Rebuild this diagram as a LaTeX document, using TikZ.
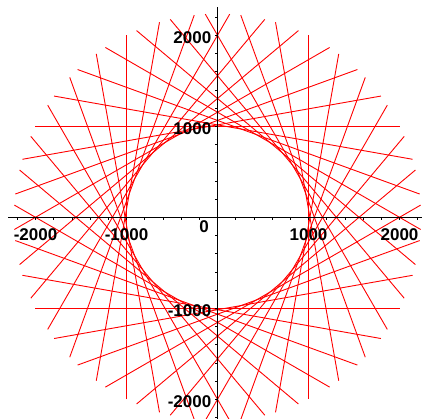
\documentclass[tikz,border=0pt]{standalone}
\usepackage{fontspec}
\setmainfont{Liberation Sans}
\begin{document}
\begin{tikzpicture}[x=1pt,y=1pt,
  tangent/.style={red, line width=0.9pt},
  axisline/.style={black, line width=0.9pt},
  ticklbl/.style={font=\bfseries\fontsize{17}{17}\selectfont, inner sep=0pt, text=black}]
\useasboundingbox (0,0) rectangle (422,419);
\begin{scope}[shift={(217.5,201.7)}, x=0.091pt, y=0.091pt]
  % tangent lines to the circle of radius 1000
  \foreach \k in {0,...,35}{
    \pgfmathsetmacro{\t}{10*\k}
    \coordinate (p\k) at ({1000*cos(\t)-2000*sin(\t)},{1000*sin(\t)+2000*cos(\t)});
    \coordinate (q\k) at ({1000*cos(\t)+2000*sin(\t)},{1000*sin(\t)-2000*cos(\t)});
    \draw[tangent] (p\k) -- (q\k);
  }
  % axes
  \coordinate (xl) at (-2300,0);
  \coordinate (xr) at (2260,0);
  \coordinate (yb) at (0,-2225);
  \coordinate (yt) at (0,2310);
  \draw[axisline] (xl) -- (xr);
  \draw[axisline] (yb) -- (yt);
  \foreach \v in {-2200,-2000,...,2200}{
    \draw[axisline, line width=0.7pt] (\v,0) -- ++(0,-2.5pt);
    \draw[axisline, line width=0.7pt] (0,\v) -- ++(-2.5pt,0);
  }
  % labels
  \foreach \v/\s in {-2000/-2000,-1000/-1000,1000/1000,2000/2000}{
    \node[ticklbl] (lx\v) at (\v,0) [yshift=-17pt] {\s};
    \node[ticklbl, anchor=east] (ly\v) at (0,\v) [xshift=-6pt, yshift=-2pt] {\s};
  }
  \node[ticklbl] (l0) at (0,0) [xshift=-13.5pt, yshift=-9pt] {0};
\end{scope}
\end{tikzpicture}
\end{document}
